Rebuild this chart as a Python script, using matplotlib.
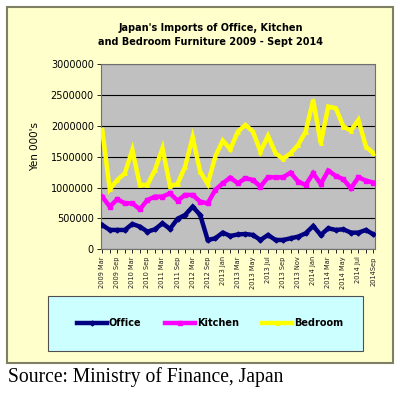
import matplotlib.pyplot as plt
from matplotlib.patches import Rectangle
from matplotlib.lines import Line2D

# categories: quarterly to Sep 2012, then Nov 2012, then monthly from Jan 2013
months = (
    ["2009 Mar", "2009 Jun", "2009 Sep", "2009 Dec",
     "2010 Mar", "2010 Jun", "2010 Sep", "2010 Dec",
     "2011 Mar", "2011 Jun", "2011 Sep", "2011 Dec",
     "2012 Mar", "2012 Jun", "2012 Sep", "2012 Nov"]
    + ["2013 " + m for m in ["Jan", "Feb", "Mar", "Apr", "May", "Jun",
                             "Jul", "Aug", "Sep", "Oct", "Nov", "Dec"]]
    + ["2014 " + m for m in ["Jan", "Feb", "Mar", "Apr", "May", "Jun",
                             "Jul", "Aug"]]
    + ["2014Sep"]
)

# values in Yen 000's
office = [394, 313, 313, 313, 410, 367, 286, 324, 421, 330,
          495, 556, 691, 556, 151, 178, 270, 216, 240, 248,
          232, 151, 232, 151, 151, 178, 205, 259, 378, 232,
          340, 313, 324, 270, 270, 313, 240]
kitchen = [853, 691, 810, 745, 745, 648, 799, 853, 853, 907,
           788, 880, 880, 772, 745, 961, 1069, 1160, 1069, 1150,
           1123, 1015, 1166, 1166, 1166, 1242, 1096, 1042, 1231, 1058,
           1274, 1188, 1134, 988, 1166, 1112, 1080]
bedroom = [1933, 972, 1123, 1231, 1609, 1042, 1042, 1285, 1636, 1026,
           1058, 1339, 1814, 1258, 1058, 1501, 1760, 1620, 1906, 2014,
           1906, 1582, 1836, 1555, 1463, 1555, 1690, 1906, 2419, 1717,
           2311, 2284, 1987, 1922, 2095, 1663, 1555]

series = [
    ("Office", office, "#000080", "D"),
    ("Kitchen", kitchen, "#FF00FF", "s"),
    ("Bedroom", bedroom, "#FFFF00", "^"),
]

W, H = 410, 393
fig = plt.figure(figsize=(W / 100, H / 100), dpi=100)
fig.patch.set_facecolor("white")

# outer chart box
fig.patches.append(Rectangle((7.3 / W, 1 - 363.3 / H), 386 / W, 356.3 / H,
                             transform=fig.transFigure, facecolor="#FFFFCC",
                             edgecolor="#7F7F66", linewidth=1.5, zorder=-5))

ax = fig.add_axes([100.7 / W, 1 - 249.3 / H, 274.3 / W, 185.3 / H])
ax.set_zorder(5)
ax.set_facecolor("#C0C0C0")
x = list(range(len(months)))
for name, vals, col, mk in series:
    ax.plot(x, [v * 1000 for v in vals], color=col, linewidth=3.2,
            marker=mk, markersize=2.5, solid_joinstyle="miter", zorder=3)

ax.set_xlim(-0.2, len(months) - 0.8)
ax.set_ylim(0, 3000000)
ax.set_yticks(range(0, 3000001, 500000))
ax.set_yticklabels([str(v) for v in range(0, 3000001, 500000)], fontsize=7)
ax.yaxis.grid(True, color="black", linewidth=0.8)
ax.set_axisbelow(True)
ax.set_xticks(x)
ax.set_xticklabels([m if i % 2 == 0 else "" for i, m in enumerate(months)],
                   rotation=90, fontsize=4.8, color="#202020")
ax.tick_params(axis="both", length=3, width=0.6, pad=2)
for s in ax.spines.values():
    s.set_color("#707070")
    s.set_linewidth(0.8)

fig.text(35 / W, 1 - 146.7 / H, "Yen 000's", rotation=90, fontsize=7.5,
         ha="center", va="center")

fig.text(211 / W, 1 - 35 / H,
         "Japan's Imports of Office, Kitchen\nand Bedroom Furniture 2009 - Sept 2014",
         fontsize=7, fontweight="bold", ha="center", va="center",
         linespacing=1.5)

# legend box
fig.patches.append(Rectangle((48.3 / W, 1 - 351 / H), 315 / W, 55 / H,
                             transform=fig.transFigure, facecolor="#CCFFFF",
                             edgecolor="#505050", linewidth=0.8, zorder=-4))
handles = [Line2D([0], [0], color=col, linewidth=3.2, marker=mk,
                  markersize=2.5, label=name)
           for name, vals, col, mk in series]
fig.legend(handles=handles, loc="center", bbox_to_anchor=(210 / W, 1 - 323.3 / H),
           ncol=3, frameon=False, handlelength=3.1, handletextpad=0.2,
           columnspacing=2.4, prop={"size": 7, "weight": "bold"})

fig.text(8 / W, 1 - 377 / H, "Source: Ministry of Finance, Japan",
         family="Liberation Serif", fontsize=14.1, ha="left", va="center")

fig.savefig("out.png", dpi=100)
